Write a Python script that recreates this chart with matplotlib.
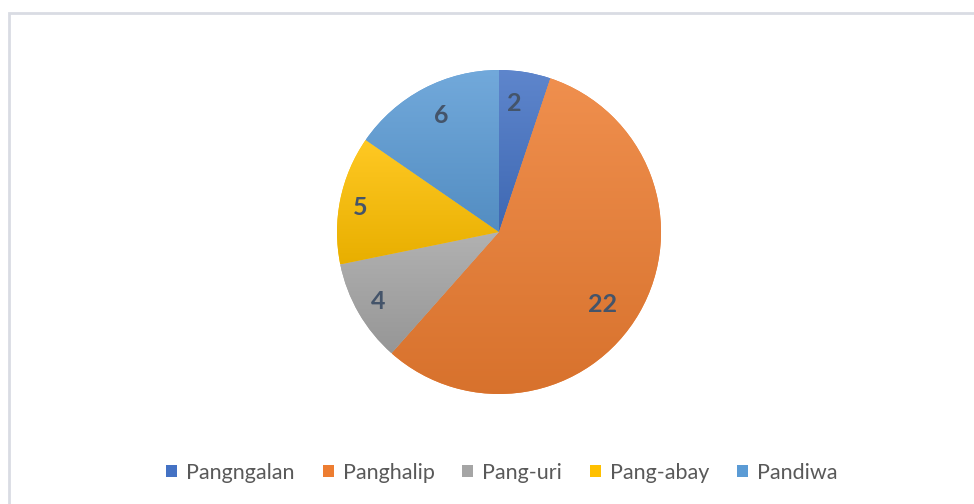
import matplotlib
matplotlib.use("Agg")
import matplotlib.pyplot as plt
import numpy as np
from matplotlib.patches import Rectangle
from matplotlib.colors import to_rgb

categories = ["Pangngalan", "Panghalip", "Pang-uri", "Pang-abay", "Pandiwa"]
values = [2, 22, 4, 5, 6]
colors = ["#4472C4", "#ED7D31", "#A5A5A5", "#FFC000", "#5B9BD5"]
# label placement (fraction of radius, angle offset from wedge middle, degrees clockwise)
label_dist = [0.80, 0.78, 0.86, 0.87, 0.80]
label_shift = [-2.6, 5.0, 0.0, -1.7, 1.3]

W, H = 974, 504
fig = plt.figure(figsize=(W / 100, H / 100), dpi=100)
fig.patch.set_facecolor("white")

# chart border
fig.patches.append(Rectangle((9 / W, -0.1), 1.2, (504 - 13) / H + 0.1, transform=fig.transFigure,
                             fill=False, edgecolor="#D9DCE3", linewidth=2.0))

cx, cy, r = 499, 232, 162
ax = fig.add_axes([(cx - r) / W, (H - cy - r) / H, 2 * r / W, 2 * r / H])
wedges, _ = ax.pie(values, colors=colors, startangle=90, counterclock=False,
                   wedgeprops=dict(linewidth=0, edgecolor="none"))


def shade(c, f):
    c = np.array(to_rgb(c))
    if f >= 0:
        return c + (1 - c) * f
    return c * (1 + f)


# gradient fill per wedge (lighter top, darker bottom)
for w, c in zip(wedges, colors):
    bb = w.get_path().get_extents(w.get_patch_transform())
    n = 256
    t = np.linspace(0, 1, n)[:, None]
    top = shade(c, 0.14)
    bot = shade(c, -0.09)
    img = (bot[None, :] * (1 - t) + top[None, :] * t)[:, None, :]
    img = np.repeat(img, 2, axis=1)
    im = ax.imshow(img, extent=(bb.x0, bb.x1, bb.y0, bb.y1), origin="lower", aspect="auto",
                   interpolation="bilinear", zorder=2)
    im.set_clip_path(w)

# value labels
total = sum(values)
start = 90.0
for v, d, s in zip(values, label_dist, label_shift):
    span = 360.0 * v / total
    mid = np.deg2rad(start - span / 2 - s)
    ax.text(d * np.cos(mid), d * np.sin(mid), str(v), ha="center", va="center",
            fontsize=18, fontweight="bold", color="#44546A", family="Lato", zorder=5)
    start -= span

ax.set_xlim(-1, 1)
ax.set_ylim(-1, 1)
ax.set_aspect("equal")
ax.axis("off")

handles = [Rectangle((0, 0), 1, 1, facecolor=c, edgecolor="none") for c in colors]
leg = fig.legend(handles, categories, loc="center", bbox_to_anchor=(502 / W, (H - 473) / H),
                 ncol=5, frameon=False, handlelength=0.5, handleheight=0.5,
                 handletextpad=0.42, columnspacing=1.3, prop=dict(family="Lato", size=15.5))
for t in leg.get_texts():
    t.set_color("#595959")

fig.savefig("out.png", dpi=100, facecolor="white")
